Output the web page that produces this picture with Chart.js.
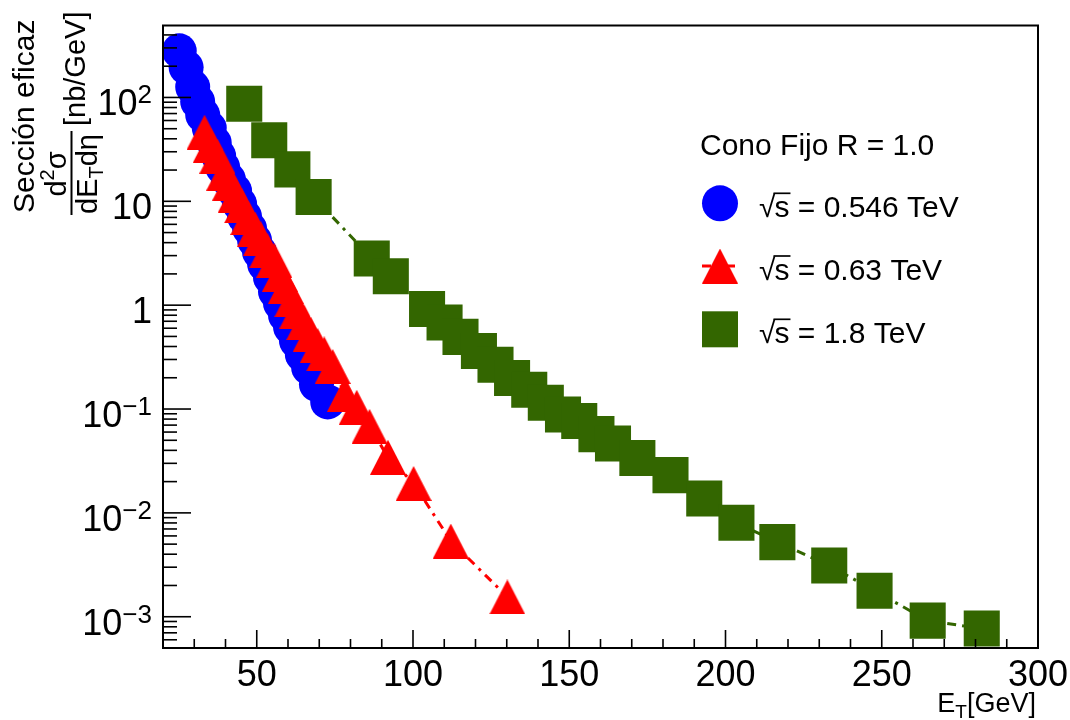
<!DOCTYPE html>
<html>
<head>
<meta charset="utf-8">
<script src="https://cdn.jsdelivr.net/npm/chart.js@4.4.0/dist/chart.umd.min.js"></script>
<style>
html, body { margin: 0; padding: 0; background: #fff; }
canvas { display: block; }
</style>
</head>
<body>
<canvas id="chart" width="1070" height="720"></canvas>
<script>
// values: E_T in GeV, cross section in nb/GeV
const etBlue = [25.2, 27.4, 29.5, 31.1, 32.7, 34.8, 36.4, 37.8, 39.1, 40.9, 42.9, 44.5, 46.1, 47.7,
                49.3, 50.9, 52.5, 54.4, 56.0, 57.6, 59.2, 60.8, 62.7, 64.6, 66.6, 69.1, 72.7];
const xsBlue = [281, 195, 126, 91, 67.9, 50.8, 36.6, 27.4, 21.2, 16.3, 12.6, 9.44, 7.11, 5.47,
                4.21, 3.24, 2.49, 1.84, 1.35, 1.04, 0.80, 0.615, 0.454, 0.334, 0.251, 0.173, 0.117];

const etRed = [33.3, 35.3, 37.4, 39.6, 41.5, 43.3, 45.3, 47.3, 49.5, 51.3, 53.4, 55.6, 57.4, 59.3,
               61.4, 63.0, 65.2, 67.3, 69.5, 71.6, 74.3, 78.2, 82.0, 86.1, 92.0, 100.2, 112.1, 130.2];
const xsRed = [46.3, 34.7, 27.2, 18.7, 15.0, 11.5, 9.04, 6.98, 5.40, 4.35, 3.37, 2.71, 1.98, 1.51,
               1.13, 0.877, 0.679, 0.526, 0.408, 0.340, 0.257, 0.138, 0.104, 0.0681, 0.0343, 0.0192, 0.00536, 0.00155];

const etGreen = [46.0, 54.0, 61.4, 68.2, 86.8, 92.9, 104.5, 110.1, 115.2, 121.1, 126.4, 131.7, 137.2, 142.5,
                 148.0, 153.2, 158.7, 164.0, 171.8, 182.4, 193.2, 203.5, 216.6, 233.2, 247.7, 264.7, 282.0];
const xsGreen = [87.1, 38.8, 20.3, 11.0, 2.82, 1.90, 0.918, 0.682, 0.495, 0.362, 0.267, 0.199, 0.153, 0.115,
                 0.0887, 0.0767, 0.0573, 0.0465, 0.0337, 0.0231, 0.01375, 0.00802, 0.00523, 0.00311, 0.00178, 0.000917, 0.000769];

const xTicks = [50, 100, 150, 200, 250, 300];
const yDecades = [-3, -2, -1, 0, 1, 2];
const legendTitle = 'Cono Fijo R = 1.0';
const legendLabels = ['0.546 TeV', '0.63 TeV', '1.8 TeV'];

const FONT = '"Liberation Sans", Arial, Helvetica, sans-serif';
const BLUE = '#0000ff', RED = '#ff0000', GREEN = '#336600';

function toPoints(xs, ys) {
    return xs.map((x, i) => ({ x: x, y: ys[i] }));
}

// ROOT style full triangle, centred on its box
function triangleMarker(w, h, color) {
    const c = document.createElement('canvas');
    c.width = w; c.height = h;
    const g = c.getContext('2d');
    g.fillStyle = color;
    g.beginPath();
    g.moveTo(w / 2, 0); g.lineTo(w, h); g.lineTo(0, h);
    g.closePath(); g.fill();
    return c;
}
const triMarker = triangleMarker(36, 35, RED);

function runsWidth(ctx, runs) {
    let w = 0;
    runs.forEach(r => { ctx.font = r.size + 'px ' + FONT; w += ctx.measureText(r.t).width; });
    return w;
}
function drawRuns(ctx, runs, x, y) {
    runs.forEach(r => {
        ctx.font = r.size + 'px ' + FONT;
        ctx.fillText(r.t, x, y + (r.dy || 0));
        x += ctx.measureText(r.t).width;
    });
    return x;
}
// draws runs rotated by -90deg; (bx, sy) = baseline x and start y on screen
function drawRotRuns(ctx, runs, bx, sy, center) {
    ctx.save();
    ctx.translate(bx, sy);
    ctx.rotate(-Math.PI / 2);
    const start = center ? -runsWidth(ctx, runs) / 2 : 0;
    drawRuns(ctx, runs, start, 0);
    ctx.restore();
}

function line(ctx, x1, y1, x2, y2) {
    ctx.beginPath(); ctx.moveTo(x1, y1); ctx.lineTo(x2, y2); ctx.stroke();
}

const rootFrame = {
    id: 'rootFrame',
    afterDraw(chart) {
        const ctx = chart.ctx, a = chart.chartArea;
        const xs = chart.scales.x, ys = chart.scales.y;
        ctx.save();
        ctx.fillStyle = '#000';
        ctx.strokeStyle = '#000';

        // ticks (inside the frame, bottom and left only)
        ctx.lineWidth = 1.6;
        for (let v = 30; v < 300; v += 10) {
            const px = xs.getPixelForValue(v);
            line(ctx, px, a.bottom, px, a.bottom - (v % 50 === 0 ? 18 : 9));
        }
        for (let d = -4; d <= 2; d++) {
            for (let m = 1; m <= 9; m++) {
                const v = m * Math.pow(10, d);
                if (v < ys.min || v > ys.max) continue;
                const py = ys.getPixelForValue(v);
                line(ctx, a.left, py, a.left + (m === 1 ? 28 : 14), py);
            }
        }
        ctx.lineWidth = 2;
        ctx.strokeRect(a.left, a.top, a.right - a.left, a.bottom - a.top);

        // x tick labels
        ctx.font = '36px ' + FONT;
        ctx.textAlign = 'center';
        ctx.textBaseline = 'alphabetic';
        xTicks.forEach(v => ctx.fillText(String(v), xs.getPixelForValue(v), 686));
        ctx.textAlign = 'left';

        // y tick labels 10^n
        yDecades.forEach(d => {
            const py = ys.getPixelForValue(Math.pow(10, d));
            let runs;
            if (d === 0) runs = [{ t: '1', size: 36 }];
            else if (d === 1) runs = [{ t: '10', size: 36 }];
            else runs = [{ t: '10', size: 36 }, { t: d > 0 ? String(d) : '\u2212' + (-d), size: 26, dy: -12 }];
            drawRuns(ctx, runs, 152 - runsWidth(ctx, runs), py + 18);
        });

        // x title
        const xt = [{ t: 'E', size: 27 }, { t: 'T', size: 19, dy: 6 }, { t: '[GeV]', size: 27 }];
        drawRuns(ctx, xt, 1036 - runsWidth(ctx, xt), 712);

        // y title
        drawRotRuns(ctx, [{ t: 'Secci\u00f3n eficaz', size: 30 }], 34, 213, false);
        drawRotRuns(ctx, [{ t: 'd', size: 29 }, { t: '2', size: 20, dy: -12 }, { t: '\u03c3', size: 29 }], 66, 174, true);
        drawRotRuns(ctx, [{ t: 'dE', size: 29 }, { t: 'T', size: 20, dy: 6 }, { t: 'd\u03b7', size: 29 }], 97, 174, true);
        ctx.lineWidth = 2;
        line(ctx, 71.5, 215, 71.5, 131);
        drawRotRuns(ctx, [{ t: '[nb/GeV]', size: 29 }], 85, 126, false);

        // legend
        ctx.font = '30px ' + FONT;
        ctx.fillText(legendTitle, 700, 155);
        const rows = [203.3, 266, 329.3];
        ctx.fillStyle = BLUE;
        ctx.beginPath(); ctx.arc(720, rows[0], 18, 0, Math.PI * 2); ctx.fill();
        ctx.strokeStyle = RED; ctx.lineWidth = 3; ctx.setLineDash([9, 6, 3, 6]);
        line(ctx, 702, rows[1], 738, rows[1]);
        ctx.setLineDash([]);
        ctx.drawImage(triMarker, 720 - 18, rows[1] - 17.5);
        ctx.fillStyle = GREEN;
        ctx.fillRect(702, rows[2] - 18, 36, 36);
        ctx.fillStyle = '#000'; ctx.strokeStyle = '#000'; ctx.lineWidth = 1.7;
        legendLabels.forEach((lab, i) => {
            const by = rows[i] + 14;
            ctx.font = '30px ' + FONT;
            let x = 759;
            ctx.fillText('\u221a', x, by);
            x += ctx.measureText('\u221a').width - 1;
            const ws = ctx.measureText('s').width;
            line(ctx, x - 1, by - 24, x + ws + 1, by - 24);
            ctx.fillText('s', x, by);
            ctx.fillText(' = ' + lab, x + ws, by);
        });
        ctx.restore();
    }
};

new Chart(document.getElementById('chart'), {
    type: 'scatter',
    data: {
        datasets: [
            {
                label: '0.546 TeV', data: toPoints(etBlue, xsBlue), showLine: false,
                pointStyle: 'circle', pointRadius: 17.5, pointHoverRadius: 17.5,
                pointBackgroundColor: BLUE, pointBorderWidth: 0, order: 2
            },
            {
                label: '0.63 TeV', data: toPoints(etRed, xsRed), showLine: true,
                borderColor: RED, borderWidth: 3, borderDash: [9, 6, 3, 6],
                pointStyle: triMarker, pointRadius: 18, pointHoverRadius: 18,
                pointBackgroundColor: RED, pointBorderWidth: 0, order: 1
            },
            {
                label: '1.8 TeV', data: toPoints(etGreen, xsGreen), showLine: true,
                borderColor: GREEN, borderWidth: 3, borderDash: [9, 6, 3, 6],
                pointStyle: 'rect', pointRadius: 25.5, pointHoverRadius: 25.5,
                pointBackgroundColor: GREEN, pointBorderWidth: 0, order: 3
            }
        ]
    },
    options: {
        responsive: false,
        animation: false,
        devicePixelRatio: 1,
        events: [],
        layout: { padding: { left: 163, top: 16, right: 32, bottom: 72 } },
        plugins: { legend: { display: false }, tooltip: { enabled: false } },
        scales: {
            x: { type: 'linear', min: 20, max: 300, display: false },
            y: { type: 'logarithmic', min: 5e-4, max: 493, display: false }
        }
    },
    plugins: [rootFrame]
});
</script>
</body>
</html>
